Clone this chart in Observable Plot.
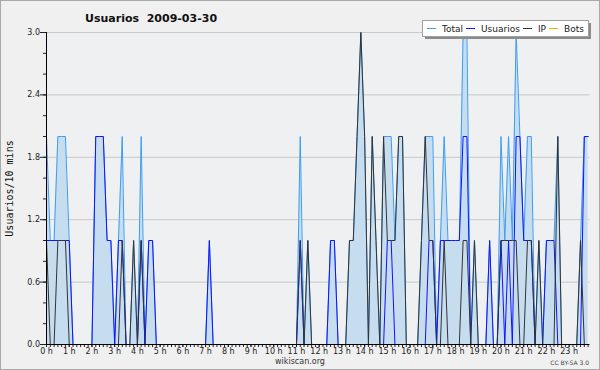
<!DOCTYPE html>
<html>
<head>
<meta charset="utf-8">
<script src="https://cdn.jsdelivr.net/npm/d3@7"></script>
<script src="https://cdn.jsdelivr.net/npm/@observablehq/plot@0.6"></script>
<style>
  body { margin: 0; background: #ffffff; }
  #wrap { position: relative; width: 600px; height: 370px; background: #f0f0f0; overflow: hidden; }
  #wrap svg { position: absolute; left: 0; top: 0; }
  #border { position: absolute; left: 0; top: 0; width: 600px; height: 370px; box-sizing: border-box; border: 1px solid #a9a9a9; pointer-events: none; }
</style>
</head>
<body>
<div id="wrap"><div id="border"></div></div>
<script>
const title = "Usuarios  2009-03-30";
const yLabel = "Usuarios/10 mins";
const footer = "wikiscan.org";
const license = "CC BY-SA 3.0";
const seriesNames = ["Total", "Usuarios", "IP", "Bots"];
const seriesColors = ["#3d9df2", "#1212ff", "#333333", "#ffa500"];
const hourLabels = ["0 h","1 h","2 h","3 h","4 h","5 h","6 h","7 h","8 h","9 h","10 h","11 h",
                    "12 h","13 h","14 h","15 h","16 h","17 h","18 h","19 h","20 h","21 h","22 h","23 h"];
const yTicks = [0, 0.6, 1.2, 1.8, 2.4, 3.0];
const yMinorTicks = [0, 0.2, 0.4, 0.6, 0.8, 1.0, 1.2, 1.4, 1.6, 1.8, 2.0, 2.2, 2.4, 2.6, 2.8, 3.0];

// one value per 10-minute slot, 144 slots (0:00 .. 23:50)
const total = [
  2,1,1,2,2,2,1,0,0,0,0,0,
  0,2,2,2,1,1,0,1,2,0,0,1,
  0,2,0,1,1,0,0,0,0,0,0,0,
  0,0,0,0,0,0,0,1,0,0,0,0,
  0,0,0,0,0,0,0,0,0,0,0,0,
  0,0,0,0,0,0,0,2,0,1,0,0,
  0,0,0,1,1,0,0,0,1,1,2,3,
  2,0,2,1,0,2,2,2,1,2,2,0,
  0,0,0,1,2,2,2,0,1,2,1,1,
  1,1,3,3,0,1,0,0,0,1,0,0,
  2,1,2,1,3,2,1,2,2,0,1,0,
  1,1,1,2,0,0,0,0,0,1,2,2
];
const usuarios = [
  1,1,1,1,1,1,1,0,0,0,0,0,
  0,2,2,2,1,1,0,1,1,0,0,0,
  0,1,0,1,1,0,0,0,0,0,0,0,
  0,0,0,0,0,0,0,1,0,0,0,0,
  0,0,0,0,0,0,0,0,0,0,0,0,
  0,0,0,0,0,0,0,1,0,0,0,0,
  0,0,0,1,1,0,0,0,0,0,0,0,
  0,0,0,0,0,0,1,1,0,0,0,0,
  0,0,0,0,0,1,1,0,1,1,1,1,
  1,1,2,2,0,0,0,0,0,1,0,0,
  1,0,1,0,2,2,1,1,1,0,0,0,
  1,1,1,0,0,0,0,0,0,0,2,2
];
const ip = [
  1,0,0,1,1,1,0,0,0,0,0,0,
  0,0,0,0,0,0,0,0,1,0,0,1,
  0,1,0,0,0,0,0,0,0,0,0,0,
  0,0,0,0,0,0,0,0,0,0,0,0,
  0,0,0,0,0,0,0,0,0,0,0,0,
  0,0,0,0,0,0,0,1,0,1,0,0,
  0,0,0,0,0,0,0,0,1,1,2,3,
  2,0,2,1,0,2,1,1,1,2,2,0,
  0,0,0,1,2,1,1,0,0,1,0,0,
  0,0,1,1,0,1,0,0,0,0,0,0,
  1,1,1,1,1,0,0,1,1,0,1,0,
  0,0,0,2,0,0,0,0,0,1,0,0
];
const bots = [
  0,0,0,0,0,0,0,0,0,0,0,0,
  0,0,0,0,0,0,0,0,0,0,0,0,
  0,0,0,0,0,0,0,0,0,0,0,0,
  0,0,0,0,0,0,0,0,0,0,0,0,
  0,0,0,0,0,0,0,0,0,0,0,0,
  0,0,0,0,0,0,0,0,0,0,0,0,
  0,0,0,0,0,0,0,0,0,0,0,0,
  0,0,0,0,0,0,0,0,0,0,0,0,
  0,0,0,0,0,0,0,0,0,0,0,0,
  0,0,0,0,0,0,0,0,0,0,0,0,
  0,0,0,0,0,0,0,0,0,0,0,0,
  0,0,0,0,0,0,0,0,0,0,0,0
];

const rows = total.map((t, i) => ({slot: i, total: t, usuarios: usuarios[i], ip: ip[i], bots: bots[i]}));
const slotTicks = rows.map(d => d.slot);
const hourTicks = hourLabels.map((_, h) => h * 6);

const chart = Plot.plot({
  width: 600,
  height: 370,
  marginLeft: 46,
  marginRight: 10.5,
  marginTop: 32,
  marginBottom: 26,
  style: {background: "transparent", fontFamily: "DejaVu Sans", fontSize: "8px", color: "#222"},
  x: {domain: [0, 143.5]},
  y: {domain: [0, 3]},
  marks: [
    Plot.frame({fill: "#eef0f2", stroke: null}),
    Plot.ruleY(yTicks.slice(1), {stroke: "#c8c8c8", strokeWidth: 1}),
    Plot.areaY(rows, {x: "slot", y: "total", fill: "#c6ddf0"}),
    Plot.lineY(rows, {x: "slot", y: "bots", stroke: seriesColors[3], strokeWidth: 1}),
    Plot.lineY(rows, {x: "slot", y: "total", stroke: seriesColors[0], strokeWidth: 1}),
    Plot.lineY(rows, {x: "slot", y: "usuarios", stroke: seriesColors[1], strokeWidth: 1}),
    Plot.lineY(rows, {x: "slot", y: "ip", stroke: seriesColors[2], strokeWidth: 1}),
    Plot.axisY({ticks: yMinorTicks, tickSize: 3, tickFormat: () => "", label: null}),
    Plot.axisY({ticks: yTicks, tickSize: 6, tickPadding: 0.5, tickFormat: d => d.toFixed(1), label: null}),
    Plot.axisX({ticks: slotTicks, tickSize: 3, tickFormat: () => "", label: null}),
    Plot.axisX({ticks: hourTicks, tickSize: 3, tickPadding: 1, tickFormat: d => hourLabels[d / 6], label: null}),
    Plot.ruleX([0], {stroke: "#000"}),
    Plot.ruleY([0], {stroke: "#000"})
  ]
});
const wrap = document.getElementById("wrap");
wrap.insertBefore(chart, document.getElementById("border"));

// overlay: title, axis label, legend, footer
const svg = d3.select(wrap).insert("svg", "#border")
  .attr("width", 600).attr("height", 370)
  .style("font-family", "DejaVu Sans");

svg.append("text").attr("x", 85).attr("y", 22)
  .style("white-space", "pre")
  .attr("font-weight", "bold").attr("font-size", 11).attr("fill", "#111")
  .text(title);

svg.append("text").attr("transform", "translate(13,188.5) rotate(-90)")
  .attr("text-anchor", "middle").attr("font-family", "DejaVu Sans Mono")
  .attr("font-size", 10).attr("fill", "#111").text(yLabel);

svg.append("text").attr("x", 300).attr("y", 364).attr("text-anchor", "middle")
  .attr("font-size", 8).attr("fill", "#333").text(footer);

svg.append("text").attr("x", 589).attr("y", 364.5).attr("text-anchor", "end")
  .attr("font-size", 6).attr("fill", "#444").text(license);

const lg = svg.append("g");
lg.append("rect").attr("x", 425).attr("y", 23).attr("width", 166).attr("height", 16).attr("fill", "#8a8a8a");
lg.append("rect").attr("x", 422.5).attr("y", 20.5).attr("width", 166).attr("height", 16)
  .attr("fill", "#ffffff").attr("stroke", "#a0a0a0");
let lx = 427;
seriesNames.forEach((name, k) => {
  lg.append("line").attr("x1", lx).attr("x2", lx + 9).attr("y1", 28.5).attr("y2", 28.5)
    .attr("stroke", seriesColors[k]).attr("stroke-width", 1);
  const t = lg.append("text").attr("x", lx + 15).attr("y", 31.7)
    .attr("font-size", 9).attr("fill", "#222").text(name);
  lx = lx + 15 + t.node().getComputedTextLength() + 3;
});
</script>
</body>
</html>
